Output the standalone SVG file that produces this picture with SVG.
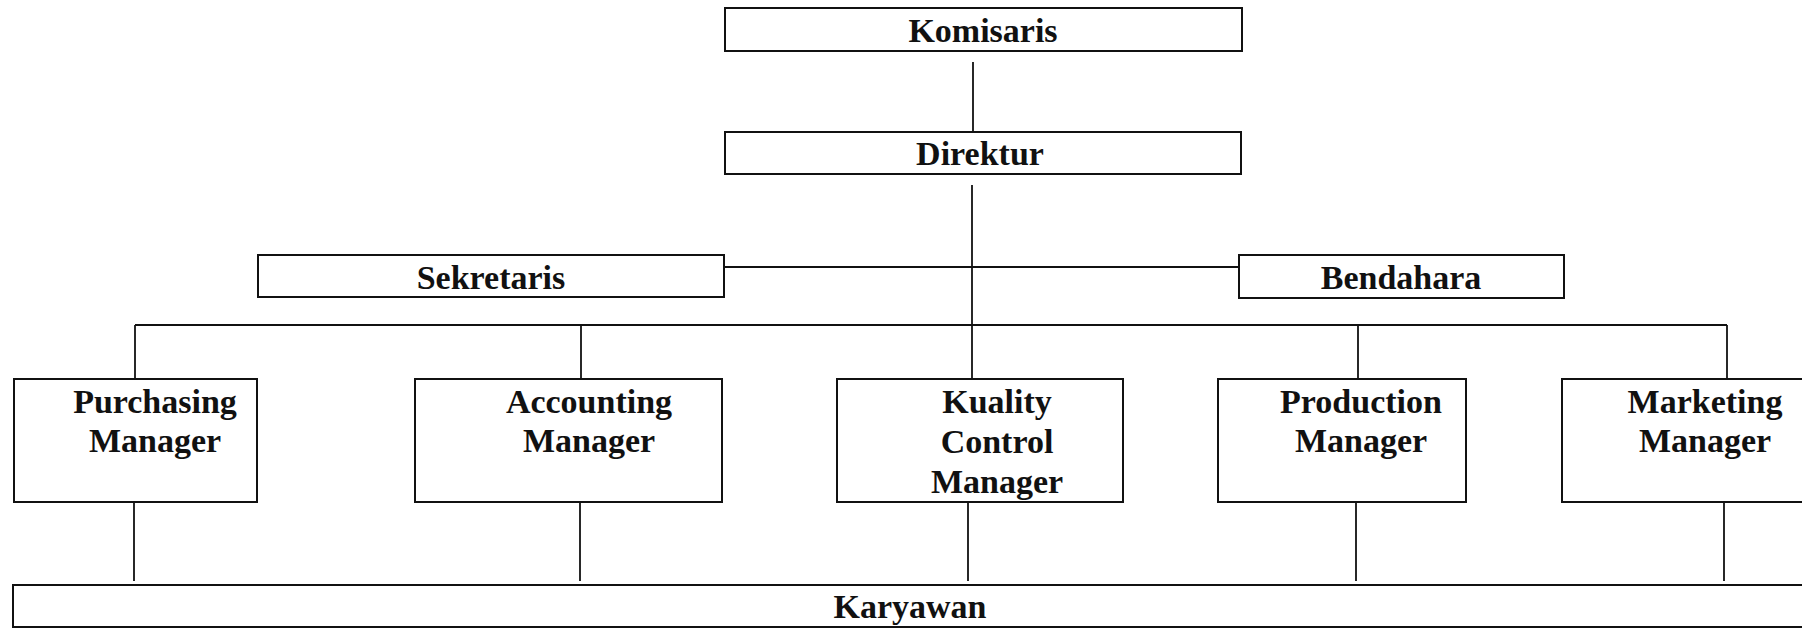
<svg xmlns="http://www.w3.org/2000/svg" width="1802" height="628" viewBox="0 0 1802 628">
  <style>
    .box { fill: #ffffff; stroke: #111111; stroke-width: 2; }
    .lbl { font-family: "Liberation Serif", "Times New Roman", serif; font-weight: bold; font-size: 34px; fill: #111111; text-anchor: middle; }
    .conn { fill: none; stroke: #111111; stroke-width: 1.8; }
  </style>
  <rect width="1802" height="628" fill="#ffffff"/>

  <!-- connectors -->
  <g id="connectors" class="conn">
    <line x1="973" y1="62" x2="973" y2="132"/>
    <line x1="972" y1="185" x2="972" y2="379"/>
    <line x1="718" y1="267" x2="1243" y2="267"/>
    <line x1="135" y1="325" x2="1727" y2="325"/>
    <line x1="135" y1="325" x2="135" y2="379"/>
    <line x1="581" y1="325" x2="581" y2="379"/>
    <line x1="1358" y1="325" x2="1358" y2="379"/>
    <line x1="1727" y1="325" x2="1727" y2="379"/>
    <line x1="134" y1="502" x2="134" y2="581"/>
    <line x1="580" y1="502" x2="580" y2="581"/>
    <line x1="968" y1="502" x2="968" y2="581"/>
    <line x1="1356" y1="502" x2="1356" y2="581"/>
    <line x1="1724" y1="502" x2="1724" y2="581"/>
  </g>

  <g id="komisaris">
    <rect class="box" x="725" y="8" width="517" height="43"/>
    <text class="lbl" x="983" y="42">Komisaris</text>
  </g>

  <g id="direktur">
    <rect class="box" x="725" y="132" width="516" height="42"/>
    <text class="lbl" x="980" y="165">Direktur</text>
  </g>

  <g id="sekretaris">
    <rect class="box" x="258" y="255" width="466" height="42"/>
    <text class="lbl" x="491" y="289">Sekretaris</text>
  </g>

  <g id="bendahara">
    <rect class="box" x="1239" y="255" width="325" height="43"/>
    <text class="lbl" x="1401" y="289">Bendahara</text>
  </g>

  <g id="purchasing-manager">
    <rect class="box" x="14" y="379" width="243" height="123"/>
    <text class="lbl" x="155" y="413">Purchasing</text>
    <text class="lbl" x="155" y="452">Manager</text>
  </g>

  <g id="accounting-manager">
    <rect class="box" x="415" y="379" width="307" height="123"/>
    <text class="lbl" x="589" y="413">Accounting</text>
    <text class="lbl" x="589" y="452">Manager</text>
  </g>

  <g id="kuality-control-manager">
    <rect class="box" x="837" y="379" width="286" height="123"/>
    <text class="lbl" x="997" y="413">Kuality</text>
    <text class="lbl" x="997" y="453">Control</text>
    <text class="lbl" x="997" y="493">Manager</text>
  </g>

  <g id="production-manager">
    <rect class="box" x="1218" y="379" width="248" height="123"/>
    <text class="lbl" x="1361" y="413">Production</text>
    <text class="lbl" x="1361" y="452">Manager</text>
  </g>

  <g id="marketing-manager">
    <rect class="box" x="1562" y="379" width="260" height="123"/>
    <text class="lbl" x="1705" y="413">Marketing</text>
    <text class="lbl" x="1705" y="452">Manager</text>
  </g>

  <g id="karyawan">
    <rect class="box" x="13" y="585" width="1809" height="42"/>
    <text class="lbl" x="910" y="618">Karyawan</text>
  </g>
</svg>
